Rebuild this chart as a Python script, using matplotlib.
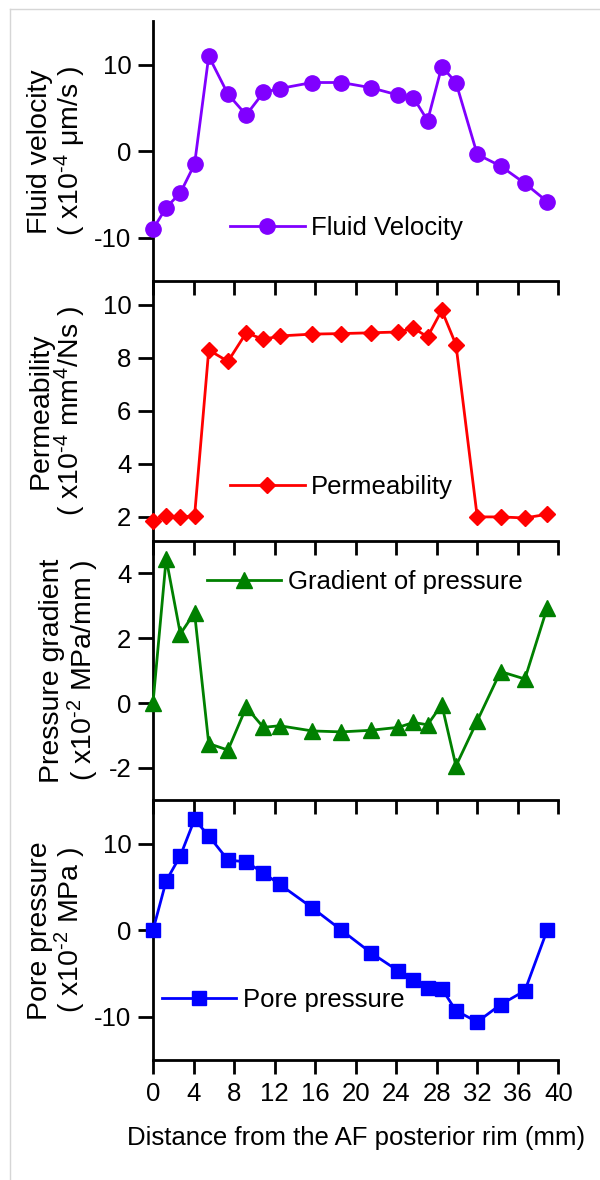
import matplotlib
matplotlib.use("Agg")
import matplotlib.pyplot as plt
from matplotlib.lines import Line2D

plt.rcParams['font.family'] = ['Liberation Sans', 'DejaVu Sans']
plt.rcParams['mathtext.fontset'] = 'custom'
plt.rcParams['mathtext.rm'] = 'Liberation Sans'
plt.rcParams['mathtext.it'] = 'Liberation Sans:italic'
plt.rcParams['axes.unicode_minus'] = False

# ---- data ----
distance = [0, 1.3, 2.7, 4.1, 5.5, 7.4, 9.2, 10.9, 12.5, 15.7, 18.6,
            21.5, 24.2, 25.7, 27.1, 28.5, 29.9, 32.0, 34.3, 36.7, 38.9]
fluid_velocity = [-9.0, -6.5, -4.8, -1.5, 11.0, 6.6, 4.2, 6.8, 7.25, 7.95, 7.95,
                  7.35, 6.5, 6.2, 3.55, 9.8, 7.95, -0.35, -1.7, -3.7, -5.8]
permeability = [1.85, 2.03, 2.0, 2.03, 8.3, 7.87, 8.95, 8.7, 8.83, 8.9, 8.92,
                8.95, 8.98, 9.12, 8.8, 9.8, 8.5, 2.0, 2.0, 1.96, 2.1]
pressure_gradient = [0.0, 4.45, 2.13, 2.78, -1.25, -1.45, -0.13, -0.75, -0.7, -0.86, -0.89,
                     -0.84, -0.75, -0.6, -0.67, -0.05, -1.94, -0.55, 0.97, 0.74, 2.93]
pore_pressure = [0.0, 5.7, 8.6, 12.8, 10.9, 8.1, 7.9, 6.6, 5.3, 2.6, 0.0,
                 -2.6, -4.7, -5.7, -6.65, -6.75, -9.3, -10.6, -8.6, -7.0, 0.0]

x_ticks = [0, 4, 8, 12, 16, 20, 24, 28, 32, 36, 40]
series_names = ["Fluid Velocity", "Permeability", "Gradient of pressure", "Pore pressure"]
y_labels = ["Fluid velocity\n( x10$^{\\text{-4}}$ μm/s )",
            "Permeability\n( x10$^{\\text{-4}}$ mm$^{4}$/Ns )",
            "Pressure gradient\n( x10$^{\\text{-2}}$ MPa/mm )",
            "Pore pressure\n( x10$^{\\text{-2}}$ MPa )"]
y_ticks = [[-10, 0, 10], [2, 4, 6, 8, 10], [-2, 0, 2, 4], [-10, 0, 10]]
y_limits = [(-15, 15), (1.1, 10.9), (-3, 5), (-15, 15)]
colors = ['#8000FF', '#FF0000', '#008000', '#0000FF']
markers = ['o', 'D', '^', 's']
marker_sizes = [11, 8.5, 11, 10]
legend_pos = [(0.19, 0.204), (0.19, 0.208), (0.133, 0.84), (0.022, 0.232)]
ylabel_x = [-0.235, -0.235, -0.205, -0.235]

fig = plt.figure(figsize=(6, 11.8), dpi=100)
axes = fig.subplots(4, 1, sharex=True)
fig.subplots_adjust(left=153 / 600, right=558.3 / 600,
                    top=1 - 21.5 / 1180, bottom=1 - 1060 / 1180, hspace=0)

values = [fluid_velocity, permeability, pressure_gradient, pore_pressure]
for i, ax in enumerate(axes):
    ax.patch.set_visible(False)
    ax.plot(distance, values[i], color=colors[i], marker=markers[i],
            markersize=marker_sizes[i], linewidth=2.0, label=series_names[i],
            clip_on=False, zorder=3)
    ax.set_xlim(0, 40)
    ax.set_ylim(*y_limits[i])
    ax.set_yticks(y_ticks[i])
    ax.set_xticks(x_ticks)
    for s in ['top', 'right']:
        ax.spines[s].set_visible(False)
    ax.spines['left'].set_linewidth(2)
    ax.spines['bottom'].set_linewidth(2)
    ax.tick_params(axis='y', direction='out', length=10.5, width=2,
                   labelsize=18.5, pad=5)
    ax.tick_params(axis='x', direction='out', length=10, width=2,
                   labelsize=18.5, pad=6)
    if i < 3:
        ax.tick_params(axis='x', labelbottom=False)
    ax.text(ylabel_x[i], 0.5, y_labels[i], transform=ax.transAxes,
            rotation=90, ha='center', va='center', multialignment='center',
            fontsize=20.5, linespacing=1.0)
    ax.legend(loc='center left', bbox_to_anchor=legend_pos[i], frameon=False,
              fontsize=18.5, handlelength=2.9, handletextpad=0.25,
              borderpad=0, borderaxespad=0)

axes[-1].set_xlabel("Distance from the AF posterior rim (mm)", fontsize=18.5,
                    labelpad=14)

# light grey page border (top and left)
fig.add_artist(Line2D([10 / 600, 1], [1 - 9 / 1180, 1 - 9 / 1180],
                      transform=fig.transFigure, color='#d6d6d6', linewidth=1))
fig.add_artist(Line2D([10 / 600, 10 / 600], [0, 1 - 9 / 1180],
                      transform=fig.transFigure, color='#d6d6d6', linewidth=1))

fig.savefig("out.png", dpi=100)
